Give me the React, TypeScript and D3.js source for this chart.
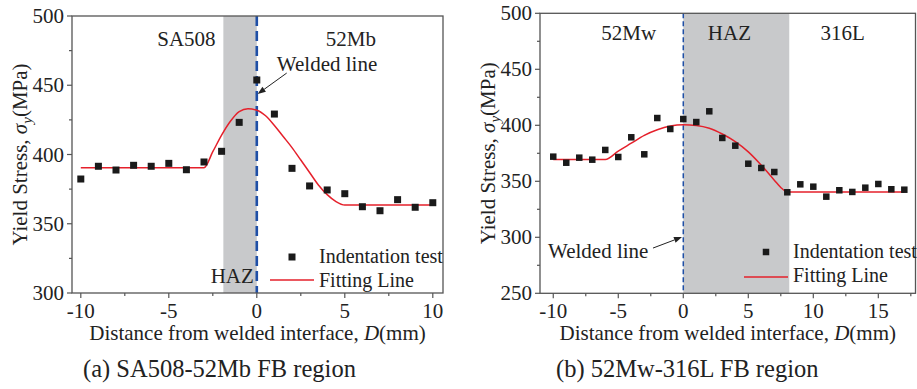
import React from "react";
import * as d3 from "d3";

// ---------- Data: (a) SA508-52Mb ----------
const aDist = [-10, -9, -8, -7, -6, -5, -4, -3, -2, -1, 0, 1, 2, 3, 4, 5, 6, 7, 8, 9, 10];
const aStress = [382.3, 391.5, 388.8, 392.2, 391.5, 393.6, 389, 394.6, 402.3, 423.2, 453.8, 429.2, 390, 377.3, 374.4, 371.7, 362.3, 359.4, 367.4, 361.9, 365.2];
const aFitDist = [-10, -3, -2.5, -2, -1.5, -1, -0.5, 0, 0.5, 1, 1.5, 2, 2.5, 3, 3.5, 4, 4.5, 5, 10];
const aFitStress = [390.5, 390.5, 402, 414, 424, 431, 433, 432, 428, 421, 413, 405, 396, 387, 378, 371, 366, 363.5, 363.5];
const aYTicks = [300, 350, 400, 450, 500];
const aXTicks = [-10, -5, 0, 5, 10];

// ---------- Data: (b) 52Mw-316L ----------
const bDist = [-10, -9, -8, -7, -6, -5, -4, -3, -2, -1, 0, 1, 2, 3, 4, 5, 6, 7, 8, 9, 10, 11, 12, 13, 14, 15, 16, 17];
const bStress = [372, 366.6, 371.1, 369.3, 378, 371.7, 389.3, 374.1, 406.5, 396.7, 405.6, 402.9, 412.5, 388.7, 381.8, 365.7, 361.9, 358.3, 340.2, 347.3, 345.2, 336.3, 342, 340.5, 344.3, 347.6, 342.9, 342.5];
const bFitDist = [-10, -6, -5, -4, -3, -2, -1, 0, 1, 2, 3, 4, 5, 6, 7, 7.5, 8, 17];
const bFitStress = [369.5, 369.5, 377, 384, 391, 396, 399.3, 400.5, 399.8, 397.3, 392.2, 385.4, 376.3, 364.4, 351, 344.5, 340.5, 340.5];
const bYTicks = [250, 300, 350, 400, 450, 500];
const bXTicks = [-10, -5, 0, 5, 10, 15];

const FONT = '"Liberation Serif"';
const AXIS = "#555";
const RED = "#e5202b";
const BLUE = "#1f4fa6";
const GRAY = "#c8c9cb";
const TXT = "#222";

function T(props: any) {
  const { style, size, ...rest } = props;
  return <text fontSize={size || 21} fill={TXT} {...rest} style={{ fontFamily: FONT, ...(style || {}) }} />;
}

type PanelProps = {
  px0: number; px1: number; py0: number; py1: number;
  xDom: [number, number]; yDom: [number, number];
  xTicks: number[]; yTicks: number[];
  dist: number[]; stress: number[]; fitDist: number[]; fitStress: number[];
  haz: [number, number];
  dashWidth: number; dashArray: string;
  caption: string; captionX: number;
  ylabelX: number;
  children?: (x: d3.ScaleLinear<number, number>, y: d3.ScaleLinear<number, number>) => React.ReactNode;
  legendX: number; legendY: number; legendLineDy: number;
  markerSize: number;
};

function Panel(p: PanelProps) {
  const x = d3.scaleLinear().domain(p.xDom).range([p.px0, p.px1]);
  const y = d3.scaleLinear().domain(p.yDom).range([p.py1, p.py0]);
  const line = d3.line<number>().x((_, i) => x(p.fitDist[i])).y((d) => y(d)).curve(d3.curveMonotoneX);
  const xMinor: number[] = [];
  for (let i = 0; i < p.xTicks.length - 1; i++) xMinor.push((p.xTicks[i] + p.xTicks[i + 1]) / 2);
  const lastX = p.xTicks[p.xTicks.length - 1] + (p.xTicks[1] - p.xTicks[0]) / 2;
  if (lastX <= p.xDom[1]) xMinor.push(lastX);
  const yMinor: number[] = [];
  for (let i = 0; i < p.yTicks.length - 1; i++) yMinor.push((p.yTicks[i] + p.yTicks[i + 1]) / 2);
  const ms = p.markerSize;
  const yMid = (p.py0 + p.py1) / 2;
  return (
    <g>
      <rect x={x(p.haz[0])} y={p.py0} width={x(p.haz[1]) - x(p.haz[0])} height={p.py1 - p.py0} fill={GRAY} />
      <line x1={x(0)} x2={x(0)} y1={p.py0} y2={p.py1} stroke={BLUE} strokeWidth={p.dashWidth} strokeDasharray={p.dashArray} />
      <path d={line(p.fitStress) || ""} fill="none" stroke={RED} strokeWidth={1.5} />
      {p.dist.map((d, i) => (
        <rect key={i} x={x(d) - ms / 2} y={y(p.stress[i]) - ms / 2} width={ms} height={ms} fill="#1a1a1a" />
      ))}
      <rect x={p.px0} y={p.py0} width={p.px1 - p.px0} height={p.py1 - p.py0} fill="none" stroke={AXIS} strokeWidth={1.3} />
      {p.xTicks.map((t) => (
        <g key={"xt" + t}>
          <line x1={x(t)} x2={x(t)} y1={p.py1} y2={p.py1 + 5} stroke={AXIS} strokeWidth={1.2} />
          <T x={x(t)} y={p.py1 + 25} textAnchor="middle">{t < 0 ? "-" + Math.abs(t) : String(t)}</T>
        </g>
      ))}
      {xMinor.map((t) => (
        <line key={"xm" + t} x1={x(t)} x2={x(t)} y1={p.py1} y2={p.py1 + 3} stroke={AXIS} strokeWidth={1.2} />
      ))}
      {p.yTicks.map((t) => (
        <g key={"yt" + t}>
          <line x1={p.px0} x2={p.px0 - 5} y1={y(t)} y2={y(t)} stroke={AXIS} strokeWidth={1.2} />
          <T x={p.px0 - 8} y={y(t) + 7} textAnchor="end">{String(t)}</T>
        </g>
      ))}
      {yMinor.map((t) => (
        <line key={"ym" + t} x1={p.px0} x2={p.px0 - 3} y1={y(t)} y2={y(t)} stroke={AXIS} strokeWidth={1.2} />
      ))}
      <T x={(p.px0 + p.px1) / 2} y={p.py1 + 47} textAnchor="middle">
        Distance from welded interface, <tspan fontStyle="italic">D</tspan>(mm)
      </T>
      <T transform={`translate(${p.ylabelX},${yMid}) rotate(-90)`} textAnchor="middle">
        Yield Stress, <tspan fontStyle="italic">σ</tspan><tspan fontStyle="italic" fontSize={15} dy={5}>y</tspan><tspan dy={-5}>(MPa)</tspan>
      </T>
      <T x={p.captionX} y={377} size={24.5}>{p.caption}</T>
      {/* legend */}
      <rect x={p.legendX - 27 - ms / 2} y={p.legendY - 6 - ms / 2} width={ms} height={ms} fill="#1a1a1a" />
      <T x={p.legendX} y={p.legendY} size={20}>Indentation test</T>
      <line x1={p.legendX - 49} x2={p.legendX - 5} y1={p.legendY + p.legendLineDy} y2={p.legendY + p.legendLineDy} stroke={RED} strokeWidth={1.5} />
      <T x={p.legendX} y={p.legendY + 24} size={20}>Fitting Line</T>
      {p.children && p.children(x, y)}
    </g>
  );
}

function Arrow({ x1, y1, x2, y2 }: { x1: number; y1: number; x2: number; y2: number }) {
  const ang = Math.atan2(y2 - y1, x2 - x1);
  const L = 8, W = 3;
  const bx = x2 - L * Math.cos(ang), by = y2 - L * Math.sin(ang);
  const px = -Math.sin(ang) * W, py = Math.cos(ang) * W;
  return (
    <g>
      <line x1={x1} y1={y1} x2={bx} y2={by} stroke="#222" strokeWidth={1} />
      <path d={`M${x2},${y2} L${bx + px},${by + py} L${bx - px},${by - py} Z`} fill="#222" />
    </g>
  );
}

export default function App() {
  return (
    <svg width={917} height={389} style={{ position: "absolute", left: 0, top: 0, background: "#fff" }}>
      <Panel
        px0={72} px1={443} py0={16} py1={293}
        xDom={[-10.5, 10.58]} yDom={[300, 500]}
        xTicks={aXTicks} yTicks={aYTicks}
        dist={aDist} stress={aStress} fitDist={aFitDist} fitStress={aFitStress}
        haz={[-1.9, 0]} dashWidth={2.6} dashArray="10,5"
        caption="(a) SA508-52Mb FB region" captionX={83}
        ylabelX={27} legendX={319} legendY={263} legendLineDy={17} markerSize={7}
      >
        {(x, y) => (
          <g>
            <T x={x(-4)} y={y(478)} textAnchor="middle">SA508</T>
            <T x={x(5.35)} y={y(478)} textAnchor="middle">52Mb</T>
            <T x={x(1.14)} y={y(460.3)}>Welded line</T>
            <Arrow x1={x(1.7)} y1={y(458.8)} x2={x(0.05)} y2={y(443.7)} />
            <T x={x(-0.17)} y={y(307.2)} textAnchor="end">HAZ</T>
          </g>
        )}
      </Panel>
      <Panel
        px0={540} px1={915.5} py0={13.3} py1={293.3}
        xDom={[-11.02, 17.86]} yDom={[250, 500]}
        xTicks={bXTicks} yTicks={bYTicks}
        dist={bDist} stress={bStress} fitDist={bFitDist} fitStress={bFitStress}
        haz={[0, 8.15]} dashWidth={1.5} dashArray="5,3"
        caption="(b) 52Mw-316L FB region" captionX={556}
        ylabelX={495} legendX={793} legendY={258} legendLineDy={19} markerSize={6.5}
      >
        {(x, y) => (
          <g>
            <T x={x(-4.2)} y={y(476)} textAnchor="middle">52Mw</T>
            <T x={x(3.55)} y={y(476)} textAnchor="middle">HAZ</T>
            <T x={x(12.25)} y={y(476)} textAnchor="middle">316L</T>
            <T x={x(-10.4)} y={y(281.5)}>Welded line</T>
            <Arrow x1={x(-2.33)} y1={y(290.4)} x2={x(-0.1)} y2={y(300.2)} />
          </g>
        )}
      </Panel>
    </svg>
  );
}
